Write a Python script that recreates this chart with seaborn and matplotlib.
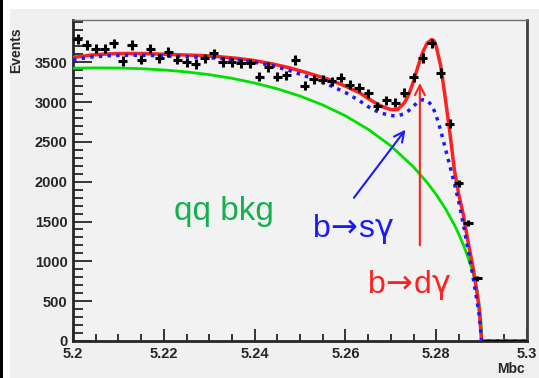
import numpy as np
import pandas as pd
import matplotlib
matplotlib.use("Agg")
import matplotlib.pyplot as plt
from matplotlib.patches import Rectangle
from matplotlib.ticker import MultipleLocator, FixedLocator, FuncFormatter
import seaborn as sns

# data: events per 2 MeV bin in Mbc
bin_centers = np.round(np.arange(5.201, 5.300, 0.002), 3)
events = [3790, 3714, 3672, 3672, 3735, 3513, 3714, 3534, 3672, 3547,
          3630, 3534, 3497, 3476, 3547, 3610, 3505, 3497, 3484, 3484,
          3316, 3442, 3316, 3337, 3526, 3203, 3287, 3280, 3258, 3306,
          3216, 3180, 3112, 2950, 3020, 2990, 3115, 3310, 3550, 3735,
          3365, 2730, 1980, 1476, 787, 0, 0, 0, 0, 0]

# qq background (green)
bkg_mbc = [5.200, 5.205, 5.210, 5.215, 5.220, 5.225, 5.230, 5.235, 5.240, 5.245,
           5.250, 5.255, 5.260, 5.265, 5.270, 5.275, 5.278, 5.280, 5.282, 5.284,
           5.285, 5.286, 5.287, 5.288, 5.2885, 5.289, 5.2895, 5.2898, 5.2899, 5.290,
           5.300]
bkg = [3425, 3429, 3427, 3419, 3403, 3378, 3344, 3298, 3239, 3166,
       3075, 2964, 2827, 2658, 2450, 2185, 1990, 1838, 1664, 1458,
       1339, 1205, 1050, 880, 770, 640, 450, 285, 200, 0,
       0]

# fit curves: b->s gamma + bkg (blue dotted), total (red)
fit_mbc = [5.200, 5.204, 5.208, 5.212, 5.216, 5.220, 5.224, 5.228, 5.232, 5.236,
           5.240, 5.244, 5.248, 5.252, 5.256, 5.260, 5.263, 5.266, 5.268, 5.270,
           5.2715, 5.273, 5.274, 5.275, 5.276, 5.277, 5.278, 5.279, 5.2795, 5.280,
           5.281, 5.282, 5.283, 5.284, 5.285, 5.286, 5.287, 5.288, 5.289, 5.2895,
           5.290, 5.300]
bsg = [3530, 3565, 3582, 3588, 3586, 3580, 3572, 3562, 3550, 3530,
       3500, 3455, 3390, 3310, 3225, 3120, 3020, 2905, 2860, 2830,
       2825, 2855, 2895, 2950, 3000, 3030, 3020, 2960, 2900, 2830,
       2640, 2420, 2200, 1980, 1740, 1460, 1150, 840, 500, 320,
       0, 0]
total = [3560, 3590, 3605, 3610, 3608, 3600, 3592, 3585, 3570, 3550,
         3520, 3478, 3425, 3360, 3290, 3200, 3120, 3010, 2945, 2905,
         2905, 2990, 3100, 3260, 3450, 3620, 3740, 3785, 3770, 3700,
         3450, 3050, 2620, 2150, 1830, 1580, 1250, 960, 600, 380,
         0, 0]

y_ticks = [0, 500, 1000, 1500, 2000, 2500, 3000, 3500]

df_pts = pd.DataFrame({'mbc': bin_centers, 'events': events})
df_bkg = pd.DataFrame({'mbc': bkg_mbc, 'events': bkg})
df_fit = pd.DataFrame({'mbc': fit_mbc, 'bsg': bsg, 'total': total})

sns.set_style("ticks")
plt.rcParams['font.family'] = ['Liberation Sans', 'DejaVu Sans']
plt.rcParams['mathtext.fontset'] = 'dejavusans'

W, H = 539, 378
fig = plt.figure(figsize=(W / 100, H / 100), dpi=100)
fig.patch.set_facecolor('white')
# slide-like background: gray panel, black left strip
fig.add_artist(Rectangle((10 / W, 0), 1, (H - 9) / H, transform=fig.transFigure,
                         facecolor='#f0f0f0', edgecolor='none', zorder=-10))
fig.add_artist(Rectangle((0, 0), 3 / W, 1, transform=fig.transFigure,
                         facecolor='black', edgecolor='none', zorder=-10))

ax = fig.add_axes([73 / W, 1 - 341 / H, (527 - 73) / W, (341 - 20) / H])
ax.set_facecolor('#f2f2f2')

sns.lineplot(data=df_bkg, x='mbc', y='events', color='#00e000', lw=2, ax=ax, zorder=3)
sns.lineplot(data=df_fit, x='mbc', y='total', color='#ff2020', lw=2.5, ax=ax, zorder=4)
sns.lineplot(data=df_fit, x='mbc', y='bsg', color='#1a1aff', lw=2.5, ls=(0, (1, 1.5)), ax=ax, zorder=5)

ax.errorbar(df_pts['mbc'], df_pts['events'], xerr=0.001, yerr=np.sqrt(df_pts['events']),
            fmt='none', ecolor='black', elinewidth=2.2, capsize=0, zorder=6)

# annotations
ax.text(5.2333, 1620, 'qq bkg', color='#14b050', fontsize=24, ha='center', va='center')
ax.text(5.2617, 1400, r'b$\!\rightarrow\!$s$\mathrm{\gamma}$', color='#1a1aff', fontsize=23,
        ha='center', va='center')
ax.text(5.2740, 700, r'b$\!\rightarrow\!$d$\mathrm{\gamma}$', color='#ff2020', fontsize=23,
        ha='center', va='center')
ax.annotate('', xy=(5.2736, 2680), xytext=(5.2615, 1770),
            arrowprops=dict(arrowstyle='->', color='#1a1aff', lw=1.5, mutation_scale=18))
ax.annotate('', xy=(5.2764, 3275), xytext=(5.2764, 1167),
            arrowprops=dict(arrowstyle='->', color='#ff2020', lw=1.5, mutation_scale=18))

ax.set_xlim(5.2, 5.3)
ax.set_ylim(0, 4030)
ax.set_xlabel('')
ax.set_ylabel('')
ax.xaxis.set_major_locator(MultipleLocator(0.02))
ax.xaxis.set_minor_locator(MultipleLocator(0.005))
ax.xaxis.set_major_formatter(FuncFormatter(lambda v, p: '%g' % round(v, 3)))
ax.yaxis.set_major_locator(FixedLocator(y_ticks))
ax.yaxis.set_minor_locator(MultipleLocator(100))
ax.tick_params(axis='x', which='major', direction='in', length=9, width=1.3, labelsize=10.5, pad=4)
ax.tick_params(axis='x', which='minor', direction='in', length=5, width=1.3)
ax.tick_params(axis='y', which='major', direction='in', length=14, width=1.3, labelsize=10.5, pad=4)
ax.tick_params(axis='y', which='minor', direction='in', length=7, width=1.3)
for lab in ax.get_xticklabels() + ax.get_yticklabels():
    lab.set_fontweight('bold')

ax.spines['left'].set_linewidth(2)
ax.spines['bottom'].set_linewidth(2)
ax.spines['top'].set_color('#707070')
ax.spines['top'].set_linewidth(1)
ax.spines['right'].set_color('#404040')
ax.spines['right'].set_linewidth(2)

fig.text(16 / W, 1 - 50 / H, 'Events', rotation=90, ha='center', va='center',
         fontsize=10, fontweight='bold')
fig.text(511 / W, 1 - 369 / H, 'Mbc', ha='center', va='center',
         fontsize=10, fontweight='bold')

fig.savefig('out.png', dpi=100)
